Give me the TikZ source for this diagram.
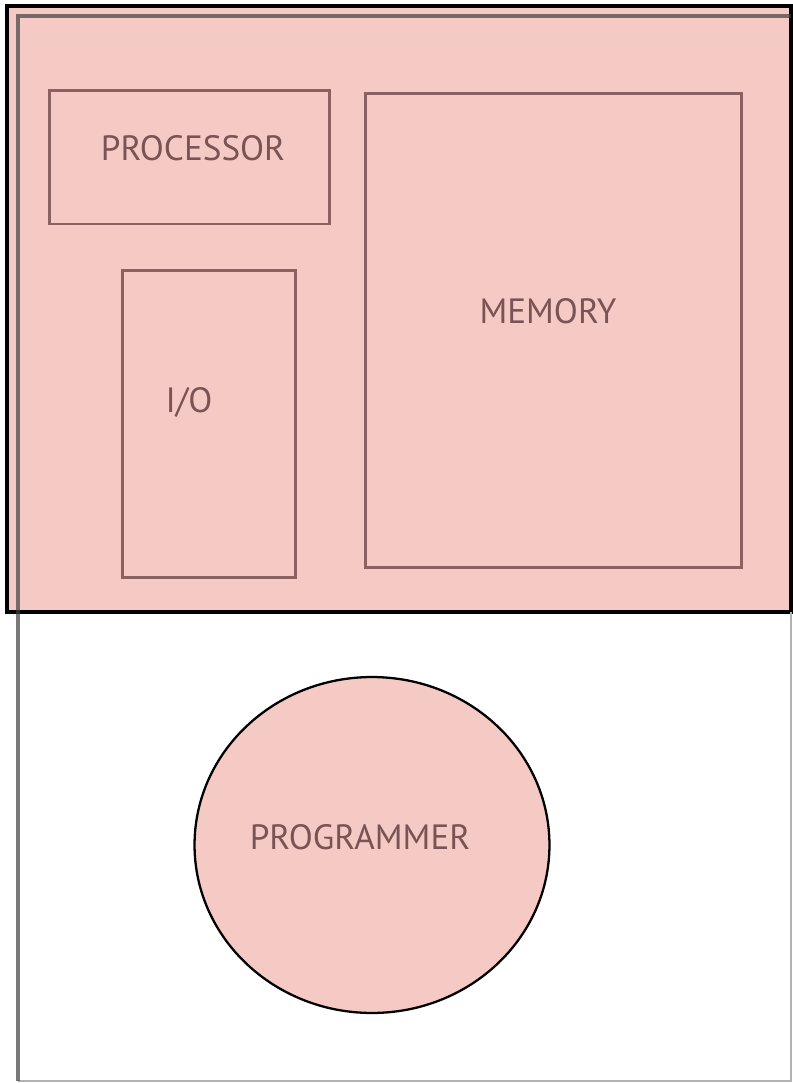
\documentclass[tikz,border=0pt]{standalone}
\usepackage{fontspec}
\setmainfont{PT Sans}
\usetikzlibrary{positioning, shapes.geometric}
\definecolor{boardpink}{RGB}{246,202,196}
\definecolor{boxline}{RGB}{140,98,96}
\definecolor{labeltext}{RGB}{122,84,84}

\begin{document}
\begin{tikzpicture}[
  x=0.02cm, y=-0.02cm,
  unit/.style={rectangle, draw=boxline, line width=1.7pt, fill=boardpink,
               text=labeltext, font=\fontsize{20}{24}\selectfont, inner sep=0pt},
  person/.style={ellipse, draw=black, line width=1.3pt, fill=boardpink,
                 text=labeltext, font=\fontsize{20}{24}\selectfont, inner sep=0pt},
  tag/.style={text=labeltext, font=\fontsize{20}{24}\selectfont, inner sep=0pt},
]
\useasboundingbox (0,0) rectangle (793,1083);
% machine board
\fill[boardpink] (7,6) rectangle (791,612);
\draw[black, line width=1.8pt] (7,6) rectangle (791,612);
% page frame
\draw[gray!60, line width=1.2pt] (791,612) -- (791,1081) -- (18,1081);
\draw[gray!50!black, opacity=0.7, line width=2pt] (18,1081) -- (18,16) -- (791,16);

\node[unit, minimum width=5.62cm, minimum height=2.68cm,
      label={[tag, xshift=0.07cm, yshift=0.18cm]center:PROCESSOR}] (proc) at (189.5,157) {};
\node[unit, minimum width=3.48cm, minimum height=6.16cm,
      label={[tag, xshift=-0.4cm, yshift=0.44cm]center:I/O}] (io) at (209,424) {};
\node[unit, minimum width=7.54cm, minimum height=9.5cm,
      label={[tag, xshift=-0.11cm, yshift=0.39cm]center:MEMORY}] (mem) at (553.5,330.5) {};

\node[person, minimum width=7.1cm, minimum height=6.72cm,
      label={[tag, xshift=-0.24cm, yshift=0.16cm]center:PROGRAMMER}] (prog) at (372,845) {};
\end{tikzpicture}
\end{document}
